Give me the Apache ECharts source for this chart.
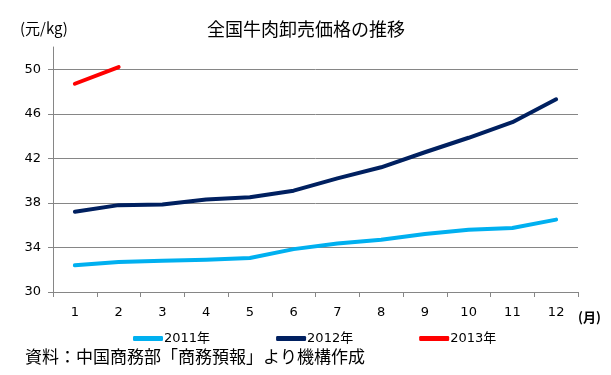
<!DOCTYPE html>
<html><head><meta charset="utf-8">
<script src="https://cdn.jsdelivr.net/npm/echarts@6/dist/echarts.min.js"></script>
<style>html,body{margin:0;padding:0;background:#fff}#c{width:611px;height:375px}</style>
</head><body><div id="c"></div>
<script>
const months = ['1','2','3','4','5','6','7','8','9','10','11','12'];
const s2011 = [32.4, 32.7, 32.8, 32.9, 33.05, 33.85, 34.35, 34.7, 35.2, 35.6, 35.75, 36.5];
const s2012 = [37.2, 37.8, 37.85, 38.3, 38.5, 39.1, 40.2, 41.2, 42.55, 43.85, 45.25, 47.3];
const s2013 = [48.7, 50.2];
const seriesNames = ['2011年', '2012年', '2013年'];
const colors = ['#00B0F0', '#002060', '#FF0000'];

const chart = echarts.init(document.getElementById('c'), null, {renderer: 'canvas'});
const font = '"DejaVu Sans", "Noto Sans CJK JP", sans-serif';
const jp = '"Noto Sans CJK JP", sans-serif';
chart.setOption({
  animation: false,
  color: colors,
  title: {
    text: '全国牛肉卸売価格の推移',
    left: 301, top: 15, textAlign: 'center',
    textStyle: {fontFamily: jp, fontSize: 18, fontWeight: 'normal', color: '#000'}
  },
  graphic: [
    {type: 'text', left: 20, top: 21, style: {text: '(元/kg)', font: '15px ' + jp, fill: '#000'}},
    {type: 'text', left: 578, top: 311, style: {text: '(月)', font: 'bold 13px ' + jp, fill: '#000'}},
    {type: 'text', left: 25, top: 348, style: {text: '資料：中国商務部「商務預報」より機構作成', font: '17px ' + jp, fill: '#000'}}
  ],
  legend: {
    data: seriesNames,
    left: 128, top: 327, itemGap: 66, itemWidth: 30, itemHeight: 5,
    icon: 'roundRect',
    textStyle: {fontFamily: font, fontSize: 13, color: '#000', padding: [0,0,0,-4]}
  },
  grid: {left: 53, right: 33, top: 47, bottom: 83, containLabel: false},
  xAxis: {
    type: 'category', data: months, boundaryGap: true,
    axisLine: {lineStyle: {color: '#868686', width: 1}},
    axisTick: {show: true, length: 5, lineStyle: {color: '#868686'}},
    axisLabel: {fontFamily: font, fontSize: 13, color: '#000', margin: 14}
  },
  yAxis: {
    type: 'value', min: 30, max: 52, interval: 4,
    axisLine: {show: true, lineStyle: {color: '#868686', width: 1}},
    axisTick: {show: true, length: 5, lineStyle: {color: '#868686'}},
    axisLabel: {fontFamily: font, fontSize: 13, color: '#000', margin: 12, showMaxLabel: false},
    splitLine: {show: true, showMaxLine: false, lineStyle: {color: '#868686', width: 1}}
  },
  series: [
    {name: seriesNames[0], type: 'line', data: s2011, symbol: 'none', lineStyle: {width: 4, color: colors[0], cap: 'round', join: 'round'}},
    {name: seriesNames[1], type: 'line', data: s2012, symbol: 'none', lineStyle: {width: 4, color: colors[1], cap: 'round', join: 'round'}},
    {name: seriesNames[2], type: 'line', data: s2013, symbol: 'none', lineStyle: {width: 4, color: colors[2], cap: 'round', join: 'round'}}
  ]
});
</script></body></html>
